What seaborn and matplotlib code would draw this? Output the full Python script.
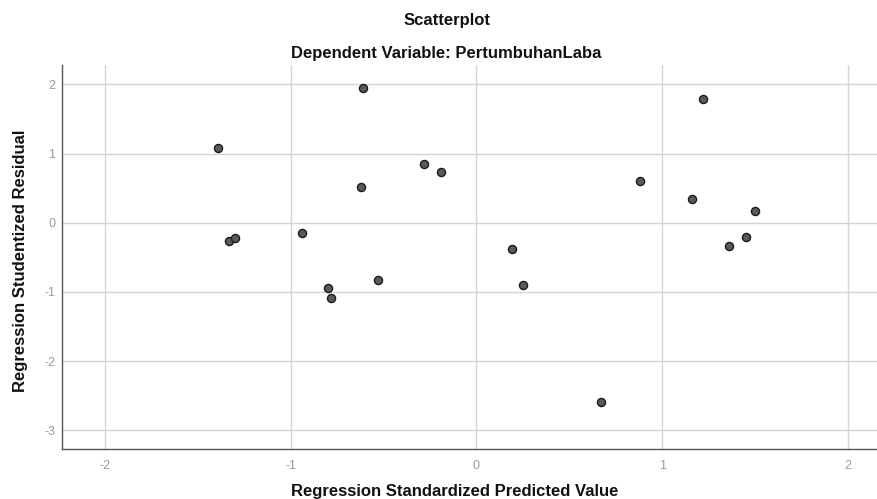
import matplotlib
matplotlib.use("Agg")
import matplotlib.pyplot as plt
import seaborn as sns
import pandas as pd

# Data
predicted = [-1.39, -1.33, -1.30, -0.94, -0.61, -0.62, -0.80, -0.78, -0.53, -0.28,
             -0.19, 0.19, 0.25, 0.67, 0.88, 1.22, 1.16, 1.36, 1.45, 1.50]
residual = [1.08, -0.27, -0.22, -0.15, 1.95, 0.52, -0.95, -1.09, -0.83, 0.85,
            0.73, -0.38, -0.90, -2.59, 0.61, 1.79, 0.35, -0.33, -0.21, 0.17]
x_ticks = [-2, -1, 0, 1, 2]
y_ticks = [-3, -2, -1, 0, 1, 2]

df = pd.DataFrame({"pred": predicted, "resid": residual})

sns.set_style("white")
plt.rcParams["font.family"] = ["Liberation Sans", "DejaVu Sans"]
plt.rcParams["axes.unicode_minus"] = False

fig = plt.figure(figsize=(8.78, 4.99), dpi=100)
ax = fig.add_axes([0.0706, 0.1002, 0.929, 0.7695])

ax.set_axisbelow(True)
ax.grid(True, color="#d4d4d4", linewidth=1.0)

sns.scatterplot(
    x="pred",
    y="resid",
    data=df,
    ax=ax,
    s=34,
    color="#5a5a5a",
    edgecolor="#1a1a1a",
    linewidth=1.0,
    zorder=3
)

ax.set_xlim(-2.23, 2.16)
ax.set_ylim(-3.27, 2.28)
ax.set_xticks(x_ticks)
ax.set_yticks(y_ticks)
ax.tick_params(axis="x", labelsize=9, labelcolor="#999999", length=0, pad=8)
ax.tick_params(axis="y", labelsize=9, labelcolor="#999999", length=0, pad=5)

for side in ["top", "right"]:
    ax.spines[side].set_visible(False)
for side in ["left", "bottom"]:
    ax.spines[side].set_color("#555555")
    ax.spines[side].set_linewidth(1.0)

ax.set_xlabel("Regression Standardized Predicted Value", fontsize=12, fontweight="bold",
              color="#111111")
ax.set_ylabel("Regression Studentized Residual", fontsize=12, fontweight="bold",
              color="#111111")
ax.xaxis.set_label_coords(0.4814, -0.092)
ax.yaxis.set_label_coords(-0.042, 0.49)

fig.text(0.509, 0.958, "Scatterplot", ha="center", va="center", fontsize=12,
         fontweight="bold", color="#111111")
fig.text(0.508, 0.893, "Dependent Variable: PertumbuhanLaba", ha="center", va="center",
         fontsize=12, fontweight="bold", color="#111111")

fig.savefig("out.png", dpi=100)
